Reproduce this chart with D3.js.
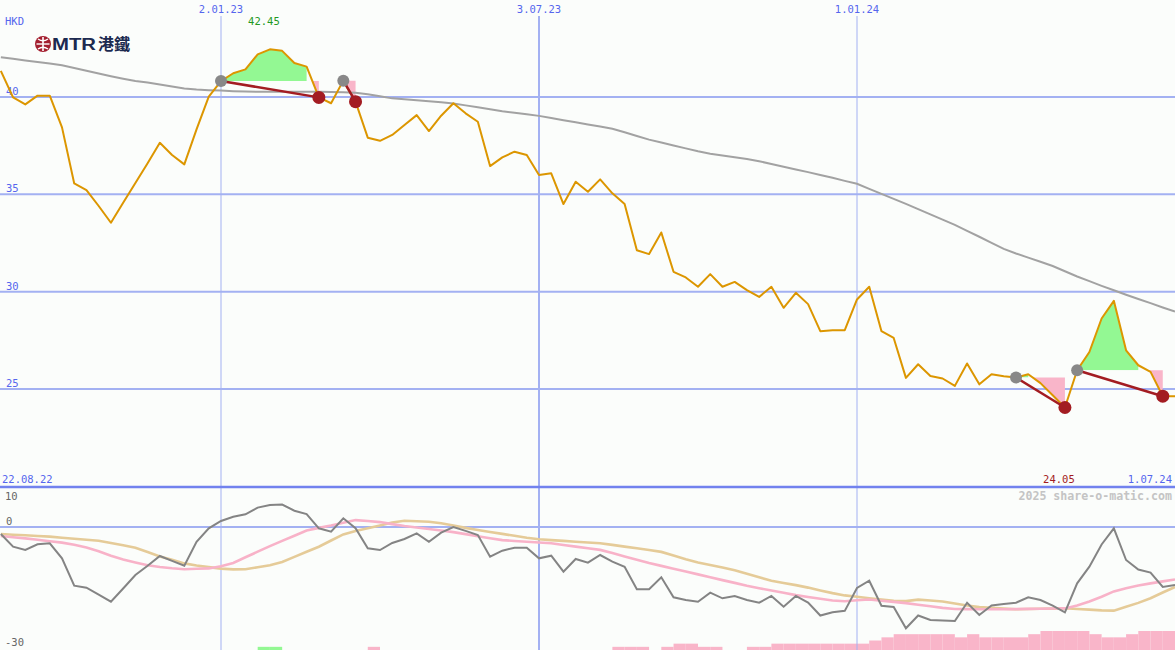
<!DOCTYPE html>
<html><head><meta charset="utf-8">
<script src="https://cdn.jsdelivr.net/npm/d3@7"></script>
<style>body{margin:0;background:#fbfdfb}svg{display:block}</style>
</head><body><svg id="c" width="1175" height="650"></svg>
<script>
// ---------- DATA ----------
const dates = [
"2022-08-29","2022-09-05","2022-09-12","2022-09-19","2022-09-26","2022-10-03","2022-10-10","2022-10-17","2022-10-24","2022-10-31",
"2022-11-07","2022-11-14","2022-11-21","2022-11-28","2022-12-05","2022-12-12","2022-12-19","2022-12-26","2023-01-02","2023-01-09",
"2023-01-16","2023-01-23","2023-01-30","2023-02-06","2023-02-13","2023-02-20","2023-02-27","2023-03-06","2023-03-13","2023-03-20",
"2023-03-27","2023-04-03","2023-04-10","2023-04-17","2023-04-24","2023-05-01","2023-05-08","2023-05-15","2023-05-22","2023-05-29",
"2023-06-05","2023-06-12","2023-06-19","2023-06-26","2023-07-03","2023-07-10","2023-07-17","2023-07-24","2023-07-31","2023-08-07",
"2023-08-14","2023-08-21","2023-08-28","2023-09-04","2023-09-11","2023-09-18","2023-09-25","2023-10-02","2023-10-09","2023-10-16",
"2023-10-23","2023-10-30","2023-11-06","2023-11-13","2023-11-20","2023-11-27","2023-12-04","2023-12-11","2023-12-18","2023-12-25",
"2024-01-01","2024-01-08","2024-01-15","2024-01-22","2024-01-29","2024-02-05","2024-02-12","2024-02-19","2024-02-26","2024-03-04",
"2024-03-11","2024-03-18","2024-03-25","2024-04-01","2024-04-08","2024-04-15","2024-04-22","2024-04-29","2024-05-06","2024-05-13",
"2024-05-20","2024-05-27","2024-06-03","2024-06-10","2024-06-17","2024-06-24","2024-07-01"];

const price = [
41.34,39.98,39.62,40.07,40.07,38.44,35.56,35.22,34.40,33.54,
34.57,35.58,36.60,37.65,37.02,36.54,38.34,40.02,40.82,41.22,
41.42,42.19,42.45,42.37,41.75,41.56,39.98,39.68,40.84,39.76,
37.91,37.75,38.05,38.56,39.07,38.25,39.04,39.68,39.16,38.73,
36.45,36.90,37.19,37.02,35.99,36.08,34.50,35.65,35.13,35.77,
35.05,34.50,32.13,31.93,33.04,31.02,30.73,30.25,30.90,30.25,
30.50,30.08,29.73,30.25,29.17,29.94,29.36,27.97,28.02,28.02,
29.60,30.25,27.97,27.62,25.57,26.27,25.67,25.54,25.16,26.31,
25.24,25.76,25.66,25.59,25.76,25.30,24.68,24.05,25.96,26.90,
28.62,29.53,26.99,26.22,25.88,24.63,24.63];

const priceMA = [
42.04,41.96,41.88,41.80,41.72,41.63,41.49,41.35,41.21,41.07,
40.94,40.82,40.74,40.64,40.54,40.44,40.38,40.35,40.33,40.30,
40.28,40.27,40.27,40.27,40.27,40.27,40.27,40.26,40.24,40.22,
40.14,40.04,39.93,39.88,39.83,39.78,39.73,39.67,39.57,39.47,
39.37,39.27,39.19,39.11,39.03,38.92,38.81,38.70,38.59,38.49,
38.37,38.19,38.00,37.81,37.66,37.51,37.36,37.21,37.09,37.00,
36.91,36.81,36.70,36.56,36.42,36.28,36.14,35.99,35.85,35.69,
35.54,35.28,35.02,34.77,34.51,34.24,33.97,33.70,33.43,33.12,
32.82,32.51,32.20,31.96,31.75,31.54,31.32,31.05,30.78,30.54,
30.30,30.07,29.84,29.62,29.41,29.19,28.98];

const osc = [
-1.8,-5.05,-5.9,-4.44,-4.18,-8.03,-15.05,-15.56,-17.33,-19.15,
-15.77,-12.3,-9.95,-7.44,-8.7,-9.92,-3.77,-0.33,1.54,2.64,
3.26,4.97,5.64,5.77,4.18,3.33,-0.33,-1.21,2.23,-0.33,
-5.46,-5.9,-4.1,-3.08,-1.62,-3.77,-1.46,0,-1.0,-2.05,
-7.62,-6.08,-5.3,-5.3,-8.03,-7.36,-11.46,-8.2,-9.15,-7.18,
-8.9,-10.18,-15.97,-15.97,-12.9,-18.03,-18.72,-19.15,-16.85,-18.28,
-17.69,-18.72,-19.41,-17.69,-20.44,-17.69,-19.4,-22.7,-21.87,-21.5,
-15.64,-13.77,-20.18,-20.5,-25.97,-22.7,-23.85,-23.97,-24.1,-19.41,
-22.56,-20.13,-19.74,-19.41,-18.03,-18.72,-20.18,-21.87,-14.44,-10.18,
-4.49,-0.33,-8.46,-10.9,-11.7,-15.38,-14.87];

const oscFast = [
-2.31,-2.62,-2.92,-3.26,-3.64,-4.0,-4.56,-5.23,-6.2,-7.38,
-8.36,-9.08,-9.82,-10.26,-10.59,-10.82,-10.72,-10.62,-10.05,-9.21,
-7.77,-6.33,-4.92,-3.56,-2.23,-0.9,-0.23,0.36,1.1,1.77,
1.54,1.26,0.74,0.26,-0.13,-0.51,-0.9,-1.31,-1.82,-2.36,
-2.87,-3.36,-3.59,-3.77,-3.97,-4.18,-4.62,-5.03,-5.46,-5.87,
-6.69,-7.56,-8.41,-9.23,-9.97,-10.69,-11.41,-12.15,-12.87,-13.62,
-14.33,-15.08,-15.69,-16.28,-16.87,-17.46,-17.95,-18.41,-18.85,-19.05,
-18.79,-18.59,-18.9,-19.2,-19.51,-19.92,-20.33,-20.74,-21.03,-21.05,
-21.08,-21.08,-21.1,-21.05,-21.0,-20.95,-20.9,-20.87,-20.1,-19.1,
-17.87,-16.51,-15.69,-15.0,-14.46,-13.95,-13.44];

const oscSlow = [
-1.79,-1.97,-2.13,-2.31,-2.46,-2.74,-3.0,-3.28,-3.54,-4.1,
-4.67,-5.31,-6.41,-7.54,-8.41,-9.33,-9.87,-10.28,-10.67,-10.87,
-10.82,-10.33,-9.82,-8.97,-7.67,-6.36,-5.05,-3.46,-1.9,-1.05,
-0.31,0.41,1.15,1.62,1.49,1.33,0.95,0.36,-0.23,-0.77,
-1.28,-1.77,-2.26,-2.77,-3.15,-3.36,-3.56,-3.77,-3.97,-4.15,
-4.59,-5.03,-5.46,-5.9,-6.38,-7.31,-8.26,-9.1,-9.74,-10.41,
-11.08,-11.97,-12.9,-13.79,-14.36,-14.9,-15.54,-16.26,-16.95,-17.54,
-17.9,-18.26,-18.59,-18.95,-19.0,-18.62,-18.85,-19.1,-19.62,-20.13,
-20.54,-20.72,-20.92,-21.1,-21.03,-20.97,-20.92,-20.85,-21.03,-21.18,
-21.38,-21.44,-20.44,-19.46,-18.28,-16.79,-15.38];

// signal bars: positive = green, negative = pink
const signal = [
0,0,0,0,0,0,0,0,0,0,
0,0,0,0,0,0,0,0,0,0,
0,1,1,0,0,0,0,0,0,0,
-1,0,0,0,0,0,0,0,0,0,
0,0,0,0,0,0,0,0,0,0,
-1,-1,-1,0,-1,-2,-2,-1,-1,0,
0,-1,-1,-2,-2,-2,-2,-2,-2,-2,
-2,-3,-4,-5,-5,-5,-5,-5,-4,-5,
-4,-4,-4,-4,-5,-6,-6,-6,-6,-5,
-4,-4,-5,-6,-6,-6,-6];

// drawdown patterns: start (grey), split, low (red) indices
const patStart = [18, 28, 83, 88];
const patSplit = [25, 28, 84, 93];
const patLow   = [26, 29, 87, 95];

const priceTicks = [40, 35, 30, 25];
const oscTickLabels = [10, 0, -30];
const dateTicks = ["2023-01-02", "2023-07-03", "2024-01-01"];
const edgeLabels = ["22.08.22", "1.07.24"];
const currency = "HKD";
const credit = "2025 share-o-matic.com";

// ---------- CHART ----------
const W = 1175, H = 650;
const parse = d3.timeParse("%Y-%m-%d");
const D = dates.map(parse);
const svg = d3.select("#c");
const defs = svg.append("defs");
svg.append("rect").attr("width", W).attr("height", H).attr("fill", "#fbfdfb");

const x = d3.scaleTime().domain([parse("2023-01-02"), parse("2024-01-01")]).range([221, 857]);
const yP = d3.scaleLinear().domain([25, 40]).range([389, 97]);
const yO = d3.scaleLinear().domain([-30, 10]).range([644, 488]);
const yB = d3.scaleLinear().domain([0, 6]).range([650, 631]);

const blue = "#5566ee", grid = "#a3b1f2";
const mono = "DejaVu Sans Mono, monospace";

// bars
svg.append("g").selectAll("rect").data(signal.map((v, i) => ({v, i})).filter(d => d.v !== 0))
  .join("rect")
  .attr("x", d => x(D[d.i]))
  .attr("width", d => x(d3.timeWeek.offset(D[d.i], 1)) - x(D[d.i]))
  .attr("y", d => yB(Math.abs(d.v)))
  .attr("height", d => yB(0) - yB(Math.abs(d.v)))
  .attr("fill", d => d.v > 0 ? "#93f893" : "#f9b5c9");

// horizontal gridlines
priceTicks.forEach(t => {
  svg.append("line").attr("x1", 0).attr("x2", W).attr("y1", yP(t)).attr("y2", yP(t))
    .attr("stroke", grid).attr("stroke-width", 2);
});
svg.append("line").attr("x1", 0).attr("x2", W).attr("y1", yO(0)).attr("y2", yO(0))
  .attr("stroke", grid).attr("stroke-width", 2);
// vertical gridlines
dateTicks.map(parse).forEach(d => {
  svg.append("line").attr("x1", x(d)).attr("x2", x(d)).attr("y1", 16).attr("y2", H)
    .attr("stroke", grid).attr("stroke-width", d.getMonth() === 6 ? 2 : 1);
  svg.append("text").attr("x", x(d)).attr("y", 13).attr("text-anchor", "middle")
    .attr("font-family", mono).attr("font-size", 10.5).attr("fill", blue)
    .text(d3.timeFormat("%-d.%m.%y")(d));
});
// panel separator
svg.append("line").attr("x1", 0).attr("x2", W).attr("y1", 487).attr("y2", 487)
  .attr("stroke", "#7282ee").attr("stroke-width", 2.5);

// price labels
priceTicks.forEach(t => {
  svg.append("text").attr("x", 6).attr("y", yP(t) - 2).attr("font-family", mono)
    .attr("font-size", 10.5).attr("fill", blue).text(t);
});
svg.append("text").attr("x", 5).attr("y", 25).attr("font-family", mono).attr("font-size", 10.5)
  .attr("fill", blue).text(currency);
// oscillator labels
svg.append("text").attr("x", 5).attr("y", 499.5).attr("font-family", mono).attr("font-size", 10.5).attr("fill", "#666").text(oscTickLabels[0]);
svg.append("text").attr("x", 6).attr("y", 525).attr("font-family", mono).attr("font-size", 10.5).attr("fill", "#666").text(oscTickLabels[1]);
svg.append("text").attr("x", 5).attr("y", 646).attr("font-family", mono).attr("font-size", 10.5).attr("fill", "#666").text(oscTickLabels[2]);

// edge labels
svg.append("text").attr("x", 2).attr("y", 483).attr("font-family", mono).attr("font-size", 10.5).attr("fill", blue).text(edgeLabels[0]);
svg.append("text").attr("x", 1172).attr("y", 483).attr("text-anchor", "end").attr("font-family", mono).attr("font-size", 10.5).attr("fill", blue).text(edgeLabels[1]);
svg.append("text").attr("x", 1172).attr("y", 500).attr("text-anchor", "end").attr("font-family", mono)
  .attr("font-size", 11.6).attr("font-weight", "bold").attr("fill", "#c4c4c4").text(credit);

// drawdown fills
const px = i => x(D[i]);
patStart.forEach((s, j) => {
  const L = yP(price[s]);
  defs.append("clipPath").attr("id", "up" + j).append("rect").attr("x", 0).attr("y", 0).attr("width", W).attr("height", L);
  defs.append("clipPath").attr("id", "dn" + j).append("rect").attr("x", 0).attr("y", L).attr("width", W).attr("height", 487 - L);
  const gIdx = d3.range(s, patSplit[j] + 1);
  const rIdx = d3.range(patSplit[j], patLow[j] + 1);
  if (gIdx.length > 1) svg.append("path").datum(gIdx).attr("clip-path", `url(#up${j})`)
    .attr("fill", "#93f893").attr("d", d3.area().x(px).y0(L).y1(i => yP(price[i])));
  svg.append("path").datum(rIdx).attr("clip-path", `url(#dn${j})`)
    .attr("fill", "#f9b5c9").attr("d", d3.area().x(px).y0(L - 1.5).y1(i => yP(price[i])));
});

// lines
const lineOf = (arr, y) => d3.line().x((d, i) => px(i)).y(d => y(d));
svg.append("path").datum(priceMA).attr("fill", "none").attr("stroke", "#a2a2a2").attr("stroke-width", 2).attr("d", lineOf(priceMA, yP));
svg.append("path").datum(price).attr("fill", "none").attr("stroke", "#dc9600").attr("stroke-width", 2).attr("stroke-linejoin", "round").attr("d", lineOf(price, yP));

defs.append("clipPath").attr("id", "low").append("rect").attr("x", 0).attr("y", 489).attr("width", W).attr("height", 161);
const lowG = svg.append("g").attr("clip-path", "url(#low)");
lowG.append("path").datum(oscSlow).attr("fill", "none").attr("stroke", "#e5cb98").attr("stroke-width", 2.6).attr("d", lineOf(oscSlow, yO));
lowG.append("path").datum(oscFast).attr("fill", "none").attr("stroke", "#f8b2c8").attr("stroke-width", 2.6).attr("d", lineOf(oscFast, yO));
lowG.append("path").datum(osc).attr("fill", "none").attr("stroke", "#848484").attr("stroke-width", 2).attr("d", lineOf(osc, yO));

// drawdown lines and markers
patStart.forEach((s, j) => {
  svg.append("line").attr("x1", px(s)).attr("y1", yP(price[s])).attr("x2", px(patLow[j])).attr("y2", yP(price[patLow[j]]))
    .attr("stroke", "#a31c22").attr("stroke-width", 2.5);
});
patStart.forEach(s => svg.append("circle").attr("cx", px(s)).attr("cy", yP(price[s])).attr("r", 6).attr("fill", "#888"));
patLow.forEach(s => svg.append("circle").attr("cx", px(s)).attr("cy", yP(price[s])).attr("r", 6.5).attr("fill", "#a31c22"));

// high / low labels
const iMax = d3.maxIndex(price), iMin = d3.minIndex(price);
svg.append("text").attr("x", px(iMax) - 6).attr("y", 24.5).attr("text-anchor", "middle").attr("font-family", mono)
  .attr("font-size", 10.5).attr("fill", "#229922").text(price[iMax].toFixed(2));
svg.append("text").attr("x", px(iMin) - 6).attr("y", 483).attr("text-anchor", "middle").attr("font-family", mono)
  .attr("font-size", 10.5).attr("fill", "#a31c22").text(price[iMin].toFixed(2));

// MTR logo
const logo = svg.append("g");
logo.append("circle").attr("cx", 43).attr("cy", 44).attr("r", 8).attr("fill", "#a31f2f");
logo.append("line").attr("x1", 43).attr("x2", 43).attr("y1", 37).attr("y2", 51).attr("stroke", "#fff").attr("stroke-width", 1.6);
logo.append("line").attr("x1", 36.5).attr("x2", 49.5).attr("y1", 44).attr("y2", 44).attr("stroke", "#fff").attr("stroke-width", 1.4);
logo.append("path").attr("d", "M38,39 Q43,42.5 48,39").attr("fill", "none").attr("stroke", "#fff").attr("stroke-width", 1.4);
logo.append("path").attr("d", "M38,49 Q43,45.5 48,49").attr("fill", "none").attr("stroke", "#fff").attr("stroke-width", 1.4);
logo.append("text").attr("x", 52).attr("y", 50).attr("font-family", "Liberation Sans, Arial, sans-serif").attr("font-weight", "bold")
  .attr("font-size", 16).attr("fill", "#1c2a50").attr("textLength", 44).attr("lengthAdjust", "spacingAndGlyphs").text("MTR");
logo.append("text").attr("x", 98).attr("y", 50).attr("font-family", "Noto Sans CJK TC, sans-serif").attr("font-weight", "bold")
  .attr("font-size", 16).attr("fill", "#1c2a50").text("港鐵");
</script></body></html>
